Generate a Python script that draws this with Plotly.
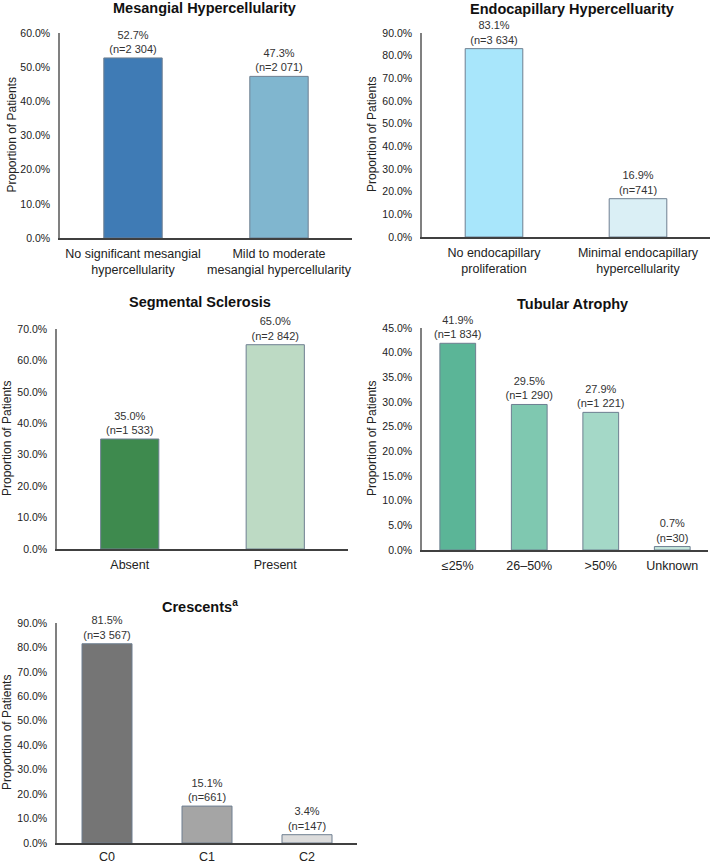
import plotly.graph_objects as go

# ---------------- data ----------------
mes_cats = ["No significant mesangial<br>hypercellularity", "Mild to moderate<br>mesangial hypercellularity"]
mes_pct = [52.7, 47.3]
mes_n = ["2 304", "2 071"]

endo_cats = ["No endocapillary<br>proliferation", "Minimal endocapillary<br>hypercellularity"]
endo_pct = [83.1, 16.9]
endo_n = ["3 634", "741"]

seg_cats = ["Absent", "Present"]
seg_pct = [35.0, 65.0]
seg_n = ["1 533", "2 842"]

tub_cats = ["≤25%", "26–50%", ">50%", "Unknown"]
tub_pct = [41.9, 29.5, 27.9, 0.7]
tub_n = ["1 834", "1 290", "1 221", "30"]

cres_cats = ["C0", "C1", "C2"]
cres_pct = [81.5, 15.1, 3.4]
cres_n = ["3 567", "661", "147"]

W, H = 714, 864
FONT = "Liberation Sans, Arial, sans-serif"
OUTLINE = "#6e7f91"

panels = [
    dict(title="Mesangial Hypercellularity", cats=mes_cats, pct=mes_pct, n=mes_n,
         colors=["#3f7bb5", "#80b6cf"], xpx=(60, 352), ypx=(33, 238), ymax=60, dtick=10,
         width=0.40, tpos=(205, 8), ytpos=11, xstand=3),
    dict(title="Endocapillary Hypercelluarity", cats=endo_cats, pct=endo_pct, n=endo_n,
         colors=["#a8e6fb", "#daeff5"], xpx=(422, 710), ypx=(33, 237), ymax=90, dtick=10,
         width=0.40, tpos=(572, 9), ytpos=372, xstand=3),
    dict(title="Segmental Sclerosis", cats=seg_cats, pct=seg_pct, n=seg_n,
         colors=["#3e8a4e", "#bddac4"], xpx=(57, 348), ypx=(329, 549), ymax=70, dtick=10,
         width=0.40, tpos=(200, 302), ytpos=7, xstand=3),
    dict(title="Tubular Atrophy", cats=tub_cats, pct=tub_pct, n=tub_n,
         colors=["#5bb597", "#7fc8b0", "#a4d8c7", "#c5e6dc"], xpx=(422, 708), ypx=(328, 550),
         ymax=45, dtick=5, width=0.50, tpos=(572, 304), ytpos=372, xstand=3),
    dict(title="Crescents<sup>a</sup>", cats=cres_cats, pct=cres_pct, n=cres_n,
         colors=["#757575", "#a5a5a5", "#dcdcdc"], xpx=(57, 357), ypx=(623, 843), ymax=90, dtick=10,
         width=0.50, tpos=(200, 606), ytpos=7, xstand=1),
]

fig = go.Figure()
annotations = []
layout_axes = {}

for i, p in enumerate(panels, start=1):
    xa = "x" if i == 1 else f"x{i}"
    ya = "y" if i == 1 else f"y{i}"
    texts = [f"{v:.1f}%<br>(n={n})" for v, n in zip(p["pct"], p["n"])]
    fig.add_trace(go.Bar(
        x=p["cats"], y=p["pct"], text=texts, textposition="outside",
        textfont=dict(size=11, color="#333333", family=FONT),
        marker=dict(color=p["colors"], line=dict(color=OUTLINE, width=1)),
        width=p["width"], cliponaxis=False, constraintext="none",
        xaxis=xa, yaxis=ya, showlegend=False, hoverinfo="skip",
    ))
    x0, x1 = p["xpx"]
    yt, yb = p["ypx"]
    xkey = "xaxis" if i == 1 else f"xaxis{i}"
    ykey = "yaxis" if i == 1 else f"yaxis{i}"
    layout_axes[xkey] = dict(
        domain=[x0 / W, x1 / W], anchor=ya, type="category",
        showline=True, linecolor="#404040", linewidth=1.5, ticks="", tickangle=0,
        showgrid=False, zeroline=False, tickfont=dict(size=12.5, color="#222222", family=FONT),
        ticklabelstandoff=p["xstand"], fixedrange=True, automargin=False,
    )
    layout_axes[ykey] = dict(
        domain=[1 - yb / H, 1 - yt / H], anchor=xa, range=[0, p["ymax"]],
        dtick=p["dtick"], tick0=0, tickformat=".1f", ticksuffix="%",
        showline=True, linecolor="#808080", linewidth=1.5, ticks="",
        showgrid=False, zeroline=False, tickfont=dict(size=10.5, color="#222222", family=FONT),
        ticklabelstandoff=6, fixedrange=True, automargin=False,
    )
    annotations.append(dict(
        text=f"<b>{p['title']}</b>", x=p["tpos"][0] / W, y=1 - p["tpos"][1] / H,
        xref="paper", yref="paper", showarrow=False, xanchor="center", yanchor="middle",
        font=dict(size=14.5, color="#111111", family=FONT),
    ))
    annotations.append(dict(
        text="Proportion of Patients", x=p["ytpos"] / W, y=1 - ((yt + yb) / 2) / H,
        xref="paper", yref="paper", showarrow=False, textangle=-90,
        xanchor="center", yanchor="middle",
        font=dict(size=12, color="#222222", family=FONT),
    ))

fig.update_layout(
    width=W, height=H, margin=dict(l=0, r=0, t=0, b=0),
    paper_bgcolor="white", plot_bgcolor="white",
    font=dict(family=FONT, color="#222222"),
    annotations=annotations, **layout_axes,
)

fig.write_html(
    "out.html",
    config={"displayModeBar": False, "responsive": False},
    post_script="document.body.style.margin='0';document.body.style.overflow='hidden';",
)
